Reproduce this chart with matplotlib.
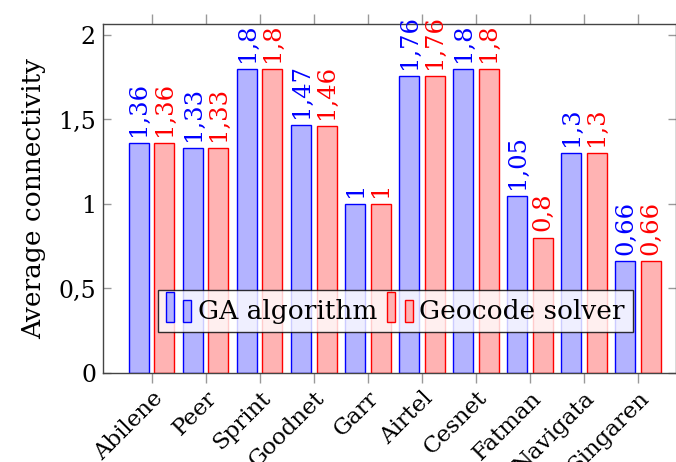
import matplotlib
matplotlib.use("Agg")
import matplotlib.pyplot as plt
import numpy as np
from matplotlib.patches import Patch, Rectangle
from matplotlib.legend_handler import HandlerBase

categories = ["Abilene", "Peer", "Sprint", "Goodnet", "Garr", "Airtel", "Cesnet", "Fatman", "Navigata", "Singaren"]
ga_values = [1.36, 1.33, 1.8, 1.47, 1.0, 1.76, 1.8, 1.05, 1.3, 0.66]
geo_values = [1.36, 1.33, 1.8, 1.46, 1.0, 1.76, 1.8, 0.8, 1.3, 0.66]
series_names = ["GA algorithm", "Geocode solver"]
yticks = [0, 0.5, 1, 1.5, 2]
ytick_labels = ["0", "0,5", "1", "1,5", "2"]

plt.rcParams['font.family'] = ['DejaVu Serif']

W, H = 676, 462
fig = plt.figure(figsize=(W/100, H/100), dpi=100)
ax = fig.add_axes([103/W, (H-373)/H, 573/W, 349/H])

x = np.arange(len(categories))
bw = 0.37
off = 0.235
blue_fill = "#b3b3ff"
red_fill = "#ffb3b3"
ax.bar(x - off, ga_values, bw, color=blue_fill, edgecolor="blue", linewidth=1.0, zorder=2)
ax.bar(x + off, geo_values, bw, color=red_fill, edgecolor="red", linewidth=1.0, zorder=2)

def fmt(v):
    s = ("%.2f" % v).rstrip("0").rstrip(".")
    return s.replace(".", ",")

for xi, v in zip(x, ga_values):
    ax.annotate(fmt(v), (xi - off, v), xytext=(0, 5), textcoords="offset points",
                rotation=90, ha="center", va="bottom", color="blue", fontsize=17.5)
for xi, v in zip(x, geo_values):
    ax.annotate(fmt(v), (xi + off, v), xytext=(0, 5), textcoords="offset points",
                rotation=90, ha="center", va="bottom", color="red", fontsize=17.5)

ax.set_xlim(-0.9, 9.7)
ax.set_ylim(0, 2.065)
ax.set_yticks(yticks)
ax.set_yticklabels(ytick_labels, fontsize=17)
ax.set_xticks(x)
ax.set_xticklabels(categories, rotation=45, ha="right", rotation_mode="anchor", fontsize=16.5)
ax.tick_params(axis="y", direction="in", left=True, right=True, length=6, color="#999999", width=1, pad=5)
ax.tick_params(axis="x", direction="out", top=True, bottom=True, length=7, color="#999999", width=1, pad=3)
for s in ax.spines.values():
    s.set_color("#444444")
    s.set_linewidth(1.0)
ax.set_ylabel("Average connectivity", fontsize=19)
ax.yaxis.set_label_coords(-0.10, 0.5)


class TwoBarHandler(HandlerBase):
    def create_artists(self, legend, orig_handle, xdescent, ydescent, width, height, fontsize, trans):
        fc = orig_handle.get_facecolor()
        ec = orig_handle.get_edgecolor()
        bwid = width * 0.3
        r1 = Rectangle((-xdescent, -ydescent), bwid, height * 1.25, facecolor=fc, edgecolor=ec, lw=1.0, transform=trans)
        r2 = Rectangle((-xdescent + width * 0.65, -ydescent), bwid, height * 0.9, facecolor=fc, edgecolor=ec, lw=1.0, transform=trans)
        return [r1, r2]


handles = [Patch(facecolor=blue_fill, edgecolor="blue"), Patch(facecolor=red_fill, edgecolor="red")]
leg = ax.legend(handles, series_names, loc="center", bbox_to_anchor=(0.51, 0.178), ncol=2,
                fontsize=19, frameon=True, fancybox=False, edgecolor="black",
                handlelength=1.0, handleheight=1.0, handletextpad=0.2, columnspacing=0.4,
                borderpad=0.3, borderaxespad=0,
                handler_map={Patch: TwoBarHandler()})
leg.get_frame().set_linewidth(1.0)
leg.set_zorder(5)

fig.savefig("out.png", dpi=100)
